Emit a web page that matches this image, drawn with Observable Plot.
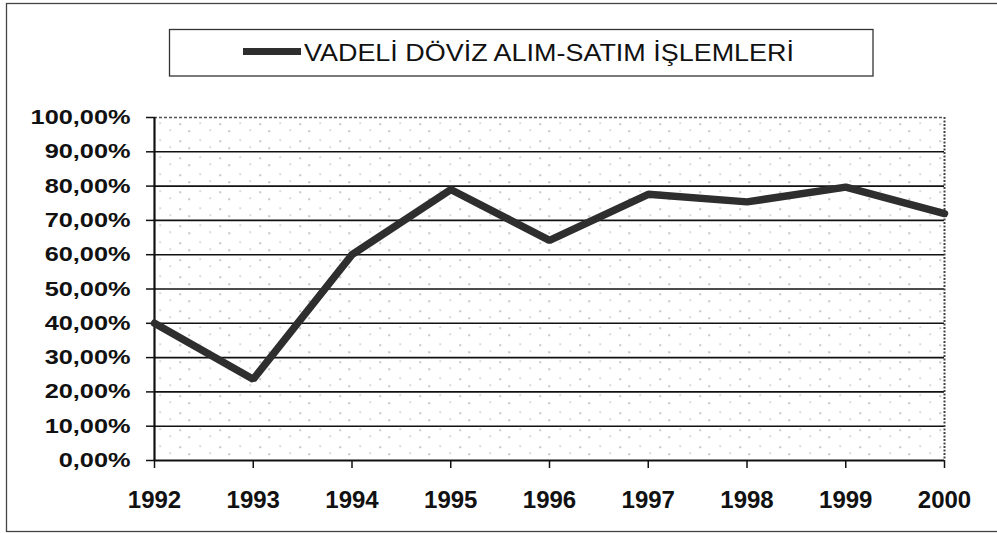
<!DOCTYPE html>
<html><head><meta charset="utf-8">
<script src="https://cdn.jsdelivr.net/npm/d3@7"></script>
<script src="https://cdn.jsdelivr.net/npm/@observablehq/plot@0.6"></script>
<style>body{margin:0;background:#fff}</style>
</head><body><div id="chart"></div>
<script>
const years = [1992, 1993, 1994, 1995, 1996, 1997, 1998, 1999, 2000];
const values = [40.0, 23.7, 60.0, 79.0, 64.2, 77.6, 75.4, 79.7, 72.0];
const yTicks = [0, 10, 20, 30, 40, 50, 60, 70, 80, 90, 100];
const seriesName = "VADELİ DÖVİZ ALIM-SATIM İŞLEMLERİ";

const data = years.map((year, i) => ({year, value: values[i]}));
const fmtY = d => d.toFixed(2).replace(".", ",") + "%";

const plot = Plot.plot({
  width: 997, height: 533,
  marginLeft: 154, marginRight: 53, marginTop: 117, marginBottom: 73,
  style: {fontFamily: "'Liberation Sans', Arial, sans-serif", background: "#fff", overflow: "visible", color: "#111"},
  x: {domain: [1992, 2000]},
  y: {domain: [0, 100]},
  marks: [
    Plot.frame({fill: "url(#dots)", stroke: null}),
    Plot.gridY(yTicks.filter(d => d > 0 && d < 100), {stroke: "#111", strokeOpacity: 1, strokeWidth: 1.6}),
    Plot.ruleY([100], {stroke: "#555", strokeDasharray: "3,2", strokeWidth: 1.5}),
    Plot.ruleX([2000], {stroke: "#444", strokeDasharray: "2,1.5", strokeWidth: 2}),
    Plot.ruleY([0], {stroke: "#111", strokeWidth: 2}),
    Plot.ruleX([1992], {stroke: "#111", strokeWidth: 2.2}),
    Plot.axisY({ticks: yTicks, tickSize: 8, tickPadding: 16, fontSize: 20.5, fontWeight: "bold", tickFormat: fmtY, stroke: "#111", strokeWidth: 1.5, fill: "#111", label: null}),
    Plot.axisX({ticks: years, tickSize: 8, tickPadding: 22, fontSize: 24, fontWeight: "bold", tickFormat: d => String(d), stroke: "#111", strokeWidth: 1.5, fill: "#111", label: null}),
    Plot.line(data, {x: "year", y: "value", stroke: "#2e2e2e", strokeWidth: 7.5, strokeLinejoin: "miter"})
  ]
});
document.getElementById("chart").appendChild(plot);

const svg = d3.select(plot);
const defs = svg.insert("defs", ":first-child");
const pat = defs.append("pattern").attr("id", "dots").attr("patternUnits", "userSpaceOnUse")
  .attr("width", 40).attr("height", 17).attr("x", 154).attr("y", 117);
pat.append("rect").attr("width", 40).attr("height", 17).attr("fill", "#fff");
[[5, 5], [25, 6], [15, 12], [34, 13]].forEach(([px, py], i) => {
  pat.append("rect").attr("x", px).attr("y", py).attr("width", 1.3).attr("height", 1.3)
    .attr("fill", i % 2 ? "#777" : "#aaa");
});

// stretch y tick labels (the reference's labels are horizontally widened)
svg.selectAll('g[aria-label="y-axis tick label"] text').each(function() {
  const len = this.getComputedTextLength();
  d3.select(this).attr("textLength", len * 1.235).attr("lengthAdjust", "spacingAndGlyphs");
});

// outer border
svg.append("rect").attr("x", 6.5).attr("y", 3.5).attr("width", 1000).attr("height", 528)
  .attr("fill", "none").attr("stroke", "#444").attr("stroke-width", 1.3);

// legend
const lg = svg.append("g");
lg.append("rect").attr("x", 169.5).attr("y", 29.5).attr("width", 703.5).attr("height", 46.5)
  .attr("fill", "#fff").attr("stroke", "#333").attr("stroke-width", 1.3);
lg.append("line").attr("x1", 243).attr("x2", 301).attr("y1", 51.5).attr("y2", 51.5)
  .attr("stroke", "#2e2e2e").attr("stroke-width", 7);
lg.append("text").attr("x", 304).attr("y", 61.3).attr("text-anchor", "start")
  .attr("font-family", "'Liberation Sans', Arial, sans-serif").attr("font-size", 24).attr("fill", "#111")
  .attr("textLength", 490).attr("lengthAdjust", "spacingAndGlyphs")
  .text(seriesName);
</script>
</body></html>
